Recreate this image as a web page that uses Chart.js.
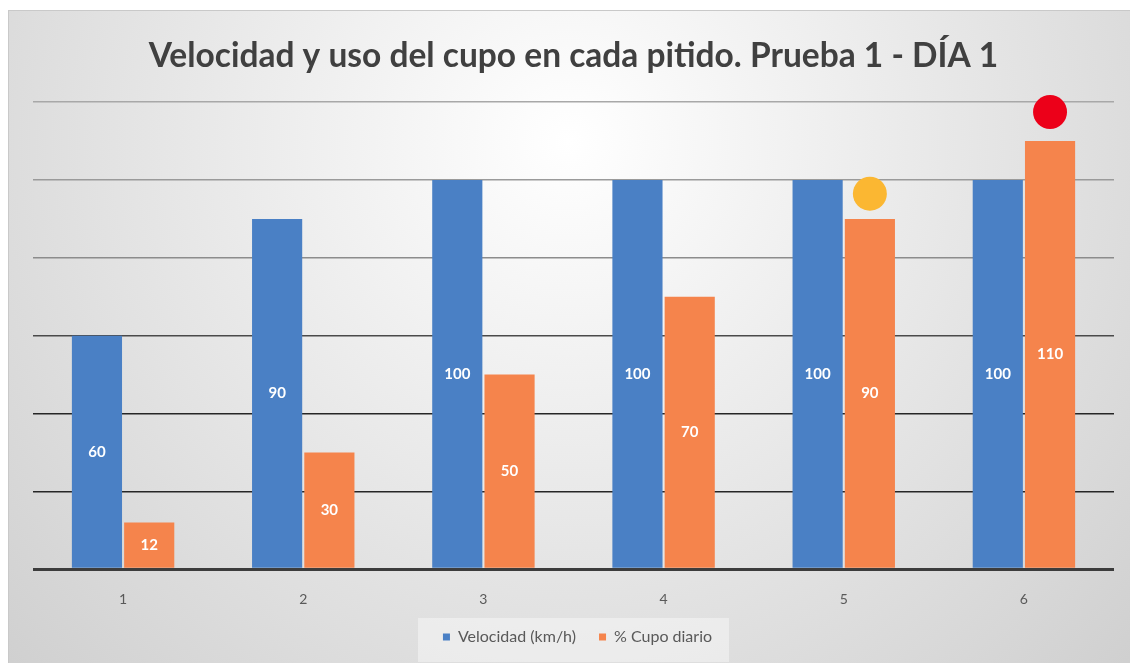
<!DOCTYPE html>
<html lang="es">
<head>
    <meta charset="UTF-8">
    <title>Velocidad y uso del cupo</title>
    <script src="https://cdn.jsdelivr.net/npm/chart.js@4.4.1/dist/chart.umd.min.js"></script>
    <style>
        html, body { margin: 0; padding: 0; background: #ffffff; }
        #wrap {
            position: absolute;
            left: 8px; top: 10px;
            width: 1122px; height: 653px;
            border-left: 1px solid #c9c9c9;
            border-top: 1px solid #c9c9c9;
            box-sizing: border-box;
        }
    </style>
</head>
<body>
    <div id="wrap"><canvas id="chartCanvas"></canvas></div>

    <script>
        const categories = ['1', '2', '3', '4', '5', '6'];
        const velocidad = [60, 90, 100, 100, 100, 100];
        const cupo = [12, 30, 50, 70, 90, 110];
        // circulos encima de las barras naranjas (5 y 6)
        const markerValues = [null, null, null, null, 96.5, 117.5];
        const markerColors = [null, null, null, null, '#fbb732', '#ec0019'];
        const gridValues = [0, 20, 40, 60, 80, 100, 120];
        const gridColors = ['#3c3c3c', '#262626', '#262626', '#4a4a4a', '#8c8c8c', '#9a9a9a', '#a8a8a8'];

        const FONT = 'Lato, "Open Sans", sans-serif';

        // fondo degradado
        const bgPlugin = {
            id: 'bg',
            beforeDraw(chart) {
                const ctx = chart.ctx;
                const g = ctx.createRadialGradient(560, 130, 0, 560, 130, 780);
                g.addColorStop(0, '#ffffff');
                g.addColorStop(1, '#cfcfcf');
                ctx.save();
                ctx.fillStyle = g;
                ctx.fillRect(0, 0, chart.width, chart.height);
                ctx.restore();
            }
        };

        // leyenda dibujada a mano (espaciado tipo Excel)
        const legendPlugin = {
            id: 'excelLegend',
            afterDraw(chart) {
                const ctx = chart.ctx;
                const area = chart.chartArea;
                const items = chart.data.datasets.map(ds => ({ text: ds.label, color: ds.backgroundColor }));
                ctx.save();
                ctx.font = '16px ' + FONT;
                const widths = items.map(it => ctx.measureText(it.text).width);
                const total = widths.reduce((s, w) => s + 7 + 8 + w, 0) + 23 * (items.length - 1);
                let x = (area.left + area.right) / 2 + 4 - total / 2;
                const y = 626;
                ctx.fillStyle = 'rgba(255,255,255,0.4)';
                ctx.fillRect(x - 25, 607, total + 42, 44);
                ctx.textBaseline = 'middle';
                items.forEach((it, i) => {
                    ctx.fillStyle = it.color;
                    ctx.fillRect(x, y - 3.5, 7, 7);
                    ctx.fillStyle = '#595959';
                    ctx.fillText(it.text, x + 15, y);
                    x += 15 + widths[i] + 23;
                });
                ctx.restore();
            }
        };

        // etiquetas de valor en el centro de cada barra + circulos
        const labelPlugin = {
            id: 'labels',
            afterDatasetsDraw(chart) {
                const ctx = chart.ctx;
                ctx.save();
                ctx.font = 'bold 15px ' + FONT;
                ctx.fillStyle = '#ffffff';
                ctx.textAlign = 'center';
                ctx.textBaseline = 'middle';
                chart.data.datasets.forEach((ds, i) => {
                    chart.getDatasetMeta(i).data.forEach((el, j) => {
                        ctx.fillText(ds.data[j], el.x, (el.y + el.base) / 2);
                    });
                });
                const orange = chart.getDatasetMeta(1).data;
                markerValues.forEach((v, j) => {
                    if (v === null) return;
                    ctx.beginPath();
                    ctx.fillStyle = markerColors[j];
                    ctx.arc(orange[j].x, chart.scales.y.getPixelForValue(v), 17, 0, Math.PI * 2);
                    ctx.fill();
                });
                ctx.restore();
            }
        };

        new Chart(document.getElementById('chartCanvas'), {
            type: 'bar',
            data: {
                labels: categories,
                datasets: [{
                    label: 'Velocidad (km/h)',
                    data: velocidad,
                    backgroundColor: '#4a80c5',
                    barPercentage: 0.96,
                    categoryPercentage: 0.58
                }, {
                    label: '% Cupo diario',
                    data: cupo,
                    backgroundColor: '#f5844c',
                    barPercentage: 0.96,
                    categoryPercentage: 0.58
                }]
            },
            options: {
                responsive: true,
                maintainAspectRatio: false,
                animation: false,
                layout: { padding: { left: 24, right: 16, top: 0, bottom: 41 } },
                plugins: {
                    title: {
                        display: true,
                        text: 'Velocidad y uso del cupo en cada pitido. Prueba 1 - DÍA 1',
                        color: '#404040',
                        font: { family: FONT, size: 33.5, weight: 'bold' },
                        padding: { top: 25, bottom: 26 }
                    },
                    legend: { display: false },
                    tooltip: { enabled: false }
                },
                scales: {
                    x: {
                        grid: { display: false },
                        border: { display: false },
                        ticks: { color: '#595959', font: { family: FONT, size: 14 }, padding: 14 }
                    },
                    y: {
                        min: 0,
                        max: 120,
                        afterBuildTicks(scale) {
                            scale.ticks = gridValues.map(v => ({ value: v }));
                        },
                        border: { display: false },
                        ticks: { display: false },
                        grid: {
                            drawTicks: false,
                            color: c => gridColors[c.index],
                            lineWidth: c => c.index === 0 ? 3 : 1.5
                        }
                    }
                }
            },
            plugins: [bgPlugin, labelPlugin, legendPlugin]
        });
    </script>
</body>
</html>
